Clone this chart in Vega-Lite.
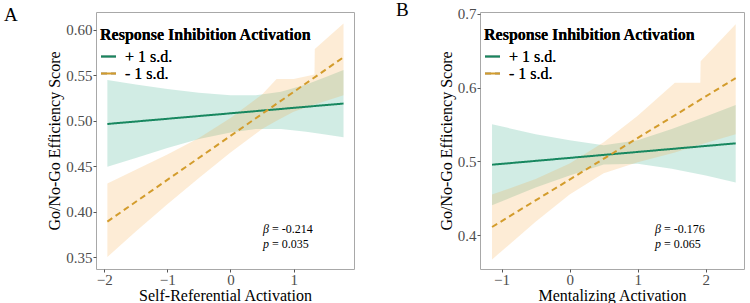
{
  "$schema": "https://vega.github.io/schema/vega-lite/v6.json",
  "padding": {"left": 3, "top": 0, "right": 2, "bottom": 0},
  "background": "white",
  "spacing": 40,
  "config": {
    "font": "Liberation Serif",
    "view": {"stroke": "#a8a8a8", "strokeWidth": 1},
    "axis": {
      "grid": false, "domain": false, "tickColor": "#555555", "tickSize": 3,
      "labelFont": "Liberation Serif", "labelFontSize": 15, "labelColor": "#4d4d4d",
      "titleFont": "Liberation Serif", "titleFontSize": 16, "titleFontWeight": "normal", "titleColor": "#000000",
      "labelPadding": 1
    },
    "axisX": {"titlePadding": 0, "labelPadding": 0},
    "axisY": {"titlePadding": 3},
    "legend": {
      "titleFont": "Liberation Serif", "titleFontSize": 16, "titleFontWeight": "bold", "titleColor": "#000000", "titleLimit": 400,
      "labelFont": "Liberation Serif", "labelFontSize": 16, "labelFontWeight": "normal", "labelColor": "#000000",
      "symbolType": "stroke", "symbolSize": 225, "symbolStrokeWidth": 2, "labelOffset": 8, "titlePadding": 5
    },
    "title": {"font": "Liberation Serif", "fontSize": 19, "fontWeight": "normal", "color": "#000000", "anchor": "start", "frame": "group", "baseline": "alphabetic"}
  },
  "datasets": {
    "ribA": [
      {"x": -1.95, "fit": 0.4965, "lo": 0.4495, "hi": 0.545, "group": "+ 1 s.d."},
      {"x": -1.5, "fit": 0.4992, "lo": 0.459, "hi": 0.540, "group": "+ 1 s.d."},
      {"x": -1.0, "fit": 0.5022, "lo": 0.470, "hi": 0.535, "group": "+ 1 s.d."},
      {"x": -0.5, "fit": 0.5052, "lo": 0.480, "hi": 0.531, "group": "+ 1 s.d."},
      {"x": 0.0, "fit": 0.5082, "lo": 0.487, "hi": 0.528, "group": "+ 1 s.d."},
      {"x": 0.4, "fit": 0.5106, "lo": 0.491, "hi": 0.528, "group": "+ 1 s.d."},
      {"x": 0.8, "fit": 0.5130, "lo": 0.491, "hi": 0.532, "group": "+ 1 s.d."},
      {"x": 1.2, "fit": 0.5154, "lo": 0.488, "hi": 0.540, "group": "+ 1 s.d."},
      {"x": 1.5, "fit": 0.5172, "lo": 0.485, "hi": 0.548, "group": "+ 1 s.d."},
      {"x": 1.79, "fit": 0.519, "lo": 0.482, "hi": 0.556, "group": "+ 1 s.d."},
      {"x": -1.95, "fit": 0.389, "lo": 0.350, "hi": 0.431, "group": "- 1 s.d."},
      {"x": -1.5, "fit": 0.411, "lo": 0.378, "hi": 0.446, "group": "- 1 s.d."},
      {"x": -1.0, "fit": 0.435, "lo": 0.408, "hi": 0.463, "group": "- 1 s.d."},
      {"x": -0.5, "fit": 0.460, "lo": 0.437, "hi": 0.481, "group": "- 1 s.d."},
      {"x": 0.0, "fit": 0.485, "lo": 0.465, "hi": 0.503, "group": "- 1 s.d."},
      {"x": 0.5, "fit": 0.510, "lo": 0.491, "hi": 0.529, "group": "- 1 s.d."},
      {"x": 0.73, "fit": 0.521, "lo": 0.500, "hi": 0.546, "group": "- 1 s.d."},
      {"x": 1.0, "fit": 0.535, "lo": 0.510, "hi": 0.546, "group": "- 1 s.d."},
      {"x": 1.33, "fit": 0.551, "lo": 0.518, "hi": 0.551, "group": "- 1 s.d."},
      {"x": 1.335, "fit": 0.551, "lo": 0.518, "hi": 0.579, "group": "- 1 s.d."},
      {"x": 1.79, "fit": 0.570, "lo": 0.528, "hi": 0.607, "group": "- 1 s.d."}
    ],
    "lineA": [
      {"x": -1.95, "fit": 0.4965, "group": "+ 1 s.d."},
      {"x": 1.79, "fit": 0.519, "group": "+ 1 s.d."},
      {"x": -1.95, "fit": 0.389, "group": "- 1 s.d."},
      {"x": 1.79, "fit": 0.570, "group": "- 1 s.d."}
    ],
    "ribB": [
      {"x": -1.14, "fit": 0.4955, "lo": 0.4405, "hi": 0.5505, "group": "+ 1 s.d."},
      {"x": -0.5, "fit": 0.5007, "lo": 0.4647, "hi": 0.5367, "group": "+ 1 s.d."},
      {"x": 0.0, "fit": 0.5047, "lo": 0.4807, "hi": 0.5287, "group": "+ 1 s.d."},
      {"x": 0.5, "fit": 0.5088, "lo": 0.4958, "hi": 0.5218, "group": "+ 1 s.d."},
      {"x": 1.0, "fit": 0.5128, "lo": 0.4968, "hi": 0.5288, "group": "+ 1 s.d."},
      {"x": 1.5, "fit": 0.5169, "lo": 0.4899, "hi": 0.5439, "group": "+ 1 s.d."},
      {"x": 2.0, "fit": 0.5209, "lo": 0.4809, "hi": 0.5609, "group": "+ 1 s.d."},
      {"x": 2.44, "fit": 0.5245, "lo": 0.4715, "hi": 0.5765, "group": "+ 1 s.d."},
      {"x": -1.14, "fit": 0.411, "lo": 0.367, "hi": 0.455, "group": "- 1 s.d."},
      {"x": -0.5, "fit": 0.447, "lo": 0.418, "hi": 0.476, "group": "- 1 s.d."},
      {"x": 0.0, "fit": 0.476, "lo": 0.455, "hi": 0.497, "group": "- 1 s.d."},
      {"x": 0.5, "fit": 0.504, "lo": 0.484, "hi": 0.526, "group": "- 1 s.d."},
      {"x": 1.0, "fit": 0.532, "lo": 0.499, "hi": 0.562, "group": "- 1 s.d."},
      {"x": 1.546, "fit": 0.562, "lo": 0.512, "hi": 0.6066, "group": "- 1 s.d."},
      {"x": 1.92, "fit": 0.583, "lo": 0.523, "hi": 0.6066, "group": "- 1 s.d."},
      {"x": 1.925, "fit": 0.583, "lo": 0.523, "hi": 0.636, "group": "- 1 s.d."},
      {"x": 2.44, "fit": 0.613, "lo": 0.537, "hi": 0.686, "group": "- 1 s.d."}
    ],
    "lineB": [
      {"x": -1.14, "fit": 0.4955, "group": "+ 1 s.d."},
      {"x": 2.44, "fit": 0.5245, "group": "+ 1 s.d."},
      {"x": -1.14, "fit": 0.411, "group": "- 1 s.d."},
      {"x": 2.44, "fit": 0.613, "group": "- 1 s.d."}
    ],
    "annA": [
      {"x": 0.515, "y": 0.381, "sym": "β", "rest": "= -0.214"},
      {"x": 0.515, "y": 0.364, "sym": "p", "rest": "= 0.035"}
    ],
    "annB": [
      {"x": 1.253, "y": 0.408, "sym": "β", "rest": "= -0.176"},
      {"x": 1.253, "y": 0.388, "sym": "p", "rest": "= 0.065"}
    ]
  },
  "hconcat": [
    {
      "width": 258, "height": 257,
      "title": {"text": "A", "dx": -92, "offset": -13},
      "layer": [
        {
          "data": {"name": "ribA"},
          "mark": {"type": "area", "fillOpacity": 0.2},
          "encoding": {
            "x": {"field": "x", "type": "quantitative", "scale": {"domain": [-2.13, 1.956], "nice": false, "zero": false},
                  "axis": {"values": [-2, -1, 0, 1], "format": "d", "title": "Self-Referential Activation"}},
            "y": {"field": "lo", "type": "quantitative", "scale": {"domain": [0.3368, 0.6198], "nice": false, "zero": false},
                  "axis": {"values": [0.35, 0.4, 0.45, 0.5, 0.55, 0.6], "format": ".2f", "title": "Go/No-Go Efficiency Score"}},
            "y2": {"field": "hi"},
            "fill": {"field": "group", "type": "nominal", "scale": {"domain": ["+ 1 s.d.", "- 1 s.d."], "range": ["#1b9e77", "#f5a030"]}, "legend": null}
          }
        },
        {
          "data": {"name": "lineA"},
          "mark": {"type": "line", "strokeWidth": 2},
          "encoding": {
            "x": {"field": "x", "type": "quantitative"},
            "y": {"field": "fit", "type": "quantitative"},
            "color": {"field": "group", "type": "nominal", "scale": {"domain": ["+ 1 s.d.", "- 1 s.d."], "range": ["#17875f", "#d39c2c"]},
                      "legend": {"title": "Response Inhibition Activation", "orient": "none", "legendX": 4, "legendY": 15, "rowPadding": -5}},
            "strokeDash": {"field": "group", "type": "nominal", "scale": {"domain": ["+ 1 s.d.", "- 1 s.d."], "range": [[1, 0], [6, 4]]},
                      "legend": {"title": "Response Inhibition Activation", "orient": "none", "legendX": 4, "legendY": 15, "rowPadding": -5}}
          }
        },
        {
          "data": {"name": "annA"},
          "mark": {"type": "text", "align": "left", "fontSize": 12, "fontStyle": "italic", "font": "Liberation Serif"},
          "encoding": {
            "x": {"field": "x", "type": "quantitative"},
            "y": {"field": "y", "type": "quantitative"},
            "text": {"field": "sym"}
          }
        },
        {
          "data": {"name": "annA"},
          "mark": {"type": "text", "align": "left", "fontSize": 12, "dx": 9, "font": "Liberation Serif"},
          "encoding": {
            "x": {"field": "x", "type": "quantitative"},
            "y": {"field": "y", "type": "quantitative"},
            "text": {"field": "rest"}
          }
        }
      ],
      "resolve": {"scale": {"color": "independent", "fill": "independent"}}
    },
    {
      "width": 264, "height": 257,
      "title": {"text": "B", "dx": -84, "offset": -13},
      "layer": [
        {
          "data": {"name": "ribB"},
          "mark": {"type": "area", "fillOpacity": 0.2},
          "encoding": {
            "x": {"field": "x", "type": "quantitative", "scale": {"domain": [-1.317, 2.562], "nice": false, "zero": false},
                  "axis": {"values": [-1, 0, 1, 2], "format": "d", "title": "Mentalizing Activation"}},
            "y": {"field": "lo", "type": "quantitative", "scale": {"domain": [0.354, 0.7027], "nice": false, "zero": false},
                  "axis": {"values": [0.4, 0.5, 0.6, 0.7], "format": ".1f", "title": "Go/No-Go Efficiency Score"}},
            "y2": {"field": "hi"},
            "fill": {"field": "group", "type": "nominal", "scale": {"domain": ["+ 1 s.d.", "- 1 s.d."], "range": ["#1b9e77", "#f5a030"]}, "legend": null}
          }
        },
        {
          "data": {"name": "lineB"},
          "mark": {"type": "line", "strokeWidth": 2},
          "encoding": {
            "x": {"field": "x", "type": "quantitative"},
            "y": {"field": "fit", "type": "quantitative"},
            "color": {"field": "group", "type": "nominal", "scale": {"domain": ["+ 1 s.d.", "- 1 s.d."], "range": ["#17875f", "#d39c2c"]},
                      "legend": {"title": "Response Inhibition Activation", "orient": "none", "legendX": 4, "legendY": 15, "rowPadding": -5}},
            "strokeDash": {"field": "group", "type": "nominal", "scale": {"domain": ["+ 1 s.d.", "- 1 s.d."], "range": [[1, 0], [6, 4]]},
                      "legend": {"title": "Response Inhibition Activation", "orient": "none", "legendX": 4, "legendY": 15, "rowPadding": -5}}
          }
        },
        {
          "data": {"name": "annB"},
          "mark": {"type": "text", "align": "left", "fontSize": 12, "fontStyle": "italic", "font": "Liberation Serif"},
          "encoding": {
            "x": {"field": "x", "type": "quantitative"},
            "y": {"field": "y", "type": "quantitative"},
            "text": {"field": "sym"}
          }
        },
        {
          "data": {"name": "annB"},
          "mark": {"type": "text", "align": "left", "fontSize": 12, "dx": 9, "font": "Liberation Serif"},
          "encoding": {
            "x": {"field": "x", "type": "quantitative"},
            "y": {"field": "y", "type": "quantitative"},
            "text": {"field": "rest"}
          }
        }
      ],
      "resolve": {"scale": {"color": "independent", "fill": "independent"}}
    }
  ],
  "resolve": {"scale": {"fill": "independent", "color": "independent", "strokeDash": "independent"}}
}
